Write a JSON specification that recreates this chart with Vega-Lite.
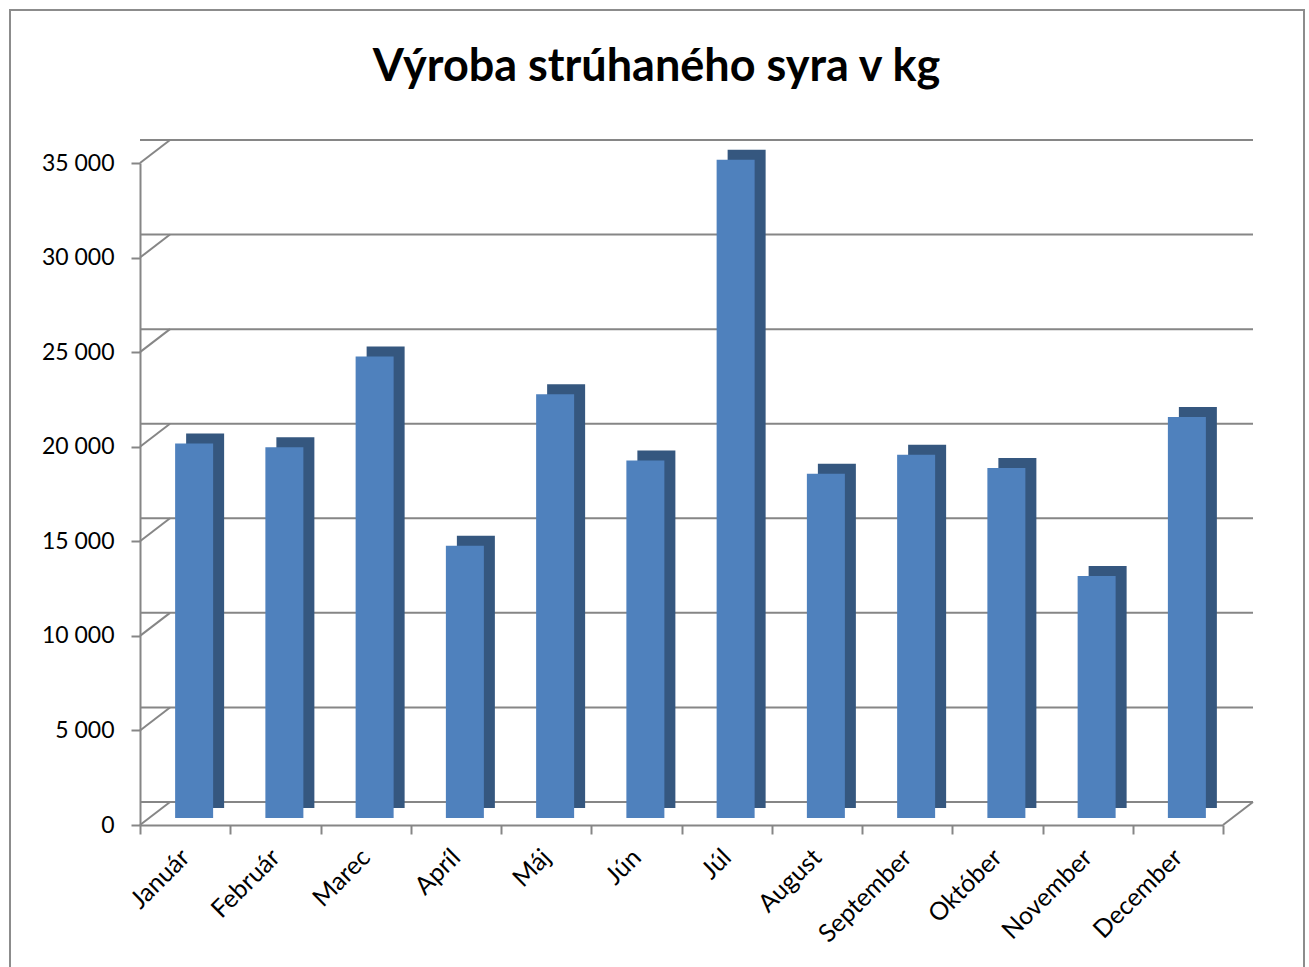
{
  "$schema": "https://vega.github.io/schema/vega-lite/v6.json",
  "autosize": {"type": "none"},
  "padding": {"left": 140, "top": 163, "right": 86, "bottom": 142},
  "width": 1083,
  "height": 662,
  "background": "white",
  "config": {
    "view": {"stroke": null},
    "font": "Lato",
    "locale": {"number": {"decimal": ",", "thousands": " ", "grouping": [3], "currency": ["", " €"]}}
  },
  "title": {
    "text": "Výroba strúhaného syra v kg",
    "font": "Lato",
    "fontSize": 45,
    "fontWeight": "bold",
    "color": "black",
    "anchor": "middle",
    "baseline": "alphabetic",
    "dx": -25,
    "offset": -117
  },
  "datasets": {
    "prod": [
      {"mesiac": "Január", "kg": 19800},
      {"mesiac": "Február", "kg": 19600},
      {"mesiac": "Marec", "kg": 24400},
      {"mesiac": "Apríl", "kg": 14400},
      {"mesiac": "Máj", "kg": 22400},
      {"mesiac": "Jún", "kg": 18900},
      {"mesiac": "Júl", "kg": 34800},
      {"mesiac": "August", "kg": 18200},
      {"mesiac": "September", "kg": 19200},
      {"mesiac": "Október", "kg": 18500},
      {"mesiac": "November", "kg": 12800},
      {"mesiac": "December", "kg": 21200}
    ],
    "levels": [
      {"v": 0}, {"v": 5000}, {"v": 10000}, {"v": 15000},
      {"v": 20000}, {"v": 25000}, {"v": 30000}, {"v": 35000}
    ]
  },
  "layer": [
    {
      "data": {"values": [{}]},
      "mark": {"type": "rect", "fill": null, "stroke": "#8c8c8c", "strokeWidth": 2, "clip": false},
      "encoding": {
        "x": {"value": -130},
        "x2": {"value": 1164},
        "y": {"value": -153},
        "y2": {"value": 812}
      }
    },
    {
      "data": {"name": "levels"},
      "mark": {"type": "rule", "color": "#868686", "strokeWidth": 2, "xOffset": 30, "x2Offset": 30, "yOffset": -23},
      "encoding": {
        "y": {"field": "v", "type": "quantitative", "title": null, "scale": {"domain": [0, 35000], "nice": false}}
      }
    },
    {
      "data": {"name": "levels"},
      "mark": {"type": "rule", "color": "#868686", "strokeWidth": 2, "y2Offset": -23},
      "encoding": {
        "x": {"value": 0},
        "x2": {"value": 30},
        "y": {"field": "v", "type": "quantitative", "title": null},
        "y2": {"field": "v"}
      }
    },
    {
      "data": {"values": [{"v": 0}]},
      "mark": {"type": "rule", "color": "#868686", "strokeWidth": 2, "y2Offset": -23},
      "encoding": {
        "x": {"value": 1083},
        "x2": {"value": 1113},
        "y": {"field": "v", "type": "quantitative", "title": null},
        "y2": {"field": "v"}
      }
    },
    {
      "data": {"name": "prod"},
      "mark": {"type": "bar", "color": "#35577f", "width": 38, "xOffset": 20, "x2Offset": 20, "yOffset": -17, "y2Offset": -17},
      "encoding": {
        "x": {"field": "mesiac", "type": "nominal", "sort": null, "title": null, "scale": {"paddingInner": 0, "paddingOuter": 0}},
        "y": {"field": "kg", "type": "quantitative", "title": null}
      }
    },
    {
      "data": {"name": "prod"},
      "mark": {"type": "bar", "color": "#4f81bd", "width": 38, "xOffset": 9, "x2Offset": 9, "yOffset": -7, "y2Offset": -7},
      "encoding": {
        "x": {
          "field": "mesiac", "type": "nominal", "sort": null, "title": null,
          "axis": {
            "tickBand": "extent",
            "domainColor": "#868686", "domainWidth": 2,
            "tickColor": "#868686", "tickWidth": 2, "tickSize": 9,
            "labelAngle": -45, "labelAlign": "right", "labelBaseline": "middle",
            "labelFont": "Lato", "labelFontSize": 25, "labelColor": "black",
            "labelPadding": 19
          }
        },
        "y": {
          "field": "kg", "type": "quantitative", "title": null,
          "axis": {
            "values": [0, 5000, 10000, 15000, 20000, 25000, 30000, 35000],
            "format": ",d",
            "grid": false,
            "domainColor": "#868686", "domainWidth": 2,
            "tickColor": "#868686", "tickWidth": 2, "tickSize": 9,
            "labelFont": "Lato", "labelFontSize": 23, "labelColor": "black",
            "labelPadding": 17
          }
        }
      }
    }
  ]
}
